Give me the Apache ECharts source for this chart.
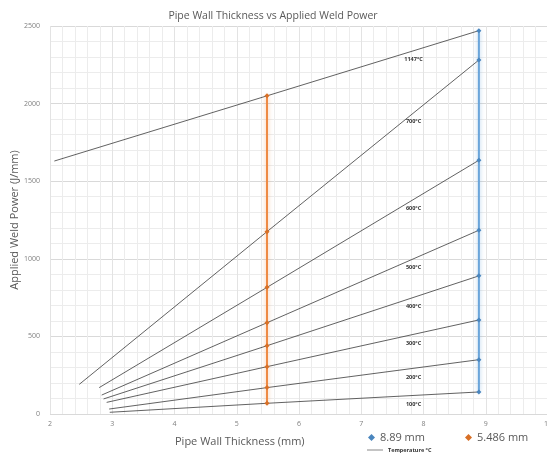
<!DOCTYPE html>
<html>
<head>
<meta charset="utf-8">
<script src="https://cdn.jsdelivr.net/npm/echarts@6/dist/echarts.min.js"></script>
<style>
html,body{margin:0;padding:0;background:#fff;}
#c{width:547px;height:455px;}
</style>
</head>
<body>
<div id="c"></div>
<script>
// ---- data ----
const thickness = [5.486, 8.89];
const seriesNames = ['5.486 mm', '8.89 mm'];
const tempLabels = ['100°C', '200°C', '300°C', '400°C', '500°C', '600°C', '700°C', '1147°C'];
const startThickness = [2.96, 2.95, 2.91, 2.86, 2.83, 2.79, 2.47, 2.07];
const startPower = [11, 32, 75, 97, 122, 170, 191, 1630];
const power5486 = [69, 170, 305, 440, 588, 816, 1175, 2050];
const power889 = [142, 350, 606, 890, 1184, 1635, 2281, 2470];
const xTicks = [2, 3, 4, 5, 6, 7, 8, 9, 10];
const yTicks = [0, 500, 1000, 1500, 2000, 2500];
const labelThickness = 7.84;

const FONT = '"Open Sans", "Liberation Sans", sans-serif';
const chart = echarts.init(document.getElementById('c'), null, {renderer: 'canvas'});

function yAt(i, x) {
  const x0 = thickness[0], x1 = thickness[1];
  const y0 = power5486[i], y1 = power889[i];
  return y0 + (y1 - y0) * (x - x0) / (x1 - x0);
}

const series = [];
tempLabels.forEach((lab, i) => {
  series.push({
    name: 'Temperature °C',
    type: 'line',
    data: [[startThickness[i], startPower[i]], [thickness[0], power5486[i]], [thickness[1], power889[i]]],
    symbol: 'none',
    lineStyle: {color: '#3a3a3a', width: 0.8},
    itemStyle: {color: '#3a3a3a'},
    z: 2,
    silent: true,
    markPoint: {
      symbol: 'circle', symbolSize: 0,
      data: [{coord: [labelThickness, yAt(i, labelThickness)], value: lab}],
      label: {show: true, formatter: lab, offset: [0, 9], fontSize: 5.5, fontWeight: 'bold',
              color: '#333', fontFamily: FONT}
    }
  });
});

series.push({
  name: seriesNames[0],
  type: 'line',
  data: power5486.map(v => [thickness[0], v]),
  symbol: 'diamond', symbolSize: 5,
  lineStyle: {color: '#EE8A45', width: 2, shadowBlur: 4, shadowColor: 'rgba(237,125,49,0.5)'},
  itemStyle: {color: '#D86F25'},
  z: 3
});
series.push({
  name: seriesNames[1],
  type: 'line',
  data: power889.map(v => [thickness[1], v]),
  symbol: 'diamond', symbolSize: 5,
  lineStyle: {color: '#6BA5DA', width: 2, shadowBlur: 4, shadowColor: 'rgba(91,155,213,0.5)'},
  itemStyle: {color: '#4A86BE'},
  z: 3
});

chart.setOption({
  animation: false,
  backgroundColor: '#fff',
  textStyle: {fontFamily: FONT},
  title: {
    text: 'Pipe Wall Thickness vs Applied Weld Power',
    left: 268, top: 6, textAlign: 'center',
    textStyle: {fontSize: 10.5, fontWeight: 'normal', color: '#595959', fontFamily: FONT}
  },
  legend: [{
    data: [seriesNames[1], seriesNames[0]],
    left: 368, top: 432, itemGap: 40, padding: 0,
    icon: 'diamond', itemWidth: 7, itemHeight: 7,
    textStyle: {fontSize: 11, color: '#595959', fontFamily: FONT}
  }, {
    data: ['Temperature °C'],
    left: 367, top: 447, itemGap: 2, padding: 0,
    itemWidth: 16, itemHeight: 6,
    icon: 'path://M0,0L16,0L16,0.6L0,0.6Z',
    textStyle: {fontSize: 5.5, fontWeight: 'bold', color: '#333', fontFamily: FONT}
  }],
  grid: {left: 50, right: -1, top: 26, bottom: 41, containLabel: false, outerBoundsMode: 'none'},
  xAxis: {
    type: 'value', min: xTicks[0], max: xTicks[xTicks.length - 1], interval: 1,
    axisLine: {show: false}, axisTick: {show: false},
    axisLabel: {fontSize: 7, color: '#7f7f7f', margin: 6, fontFamily: FONT},
    splitLine: {show: true, lineStyle: {color: '#e3e3e3', width: 1}},
    minorTick: {show: false, splitNumber: 5},
    minorSplitLine: {show: true, lineStyle: {color: '#ececec', width: 1}}
  },
  yAxis: {
    type: 'value', min: yTicks[0], max: yTicks[yTicks.length - 1], interval: 500,
    name: 'Applied Weld Power (J/mm)', nameLocation: 'middle', nameGap: 30,
    nameMoveOverlap: false,
    nameTextStyle: {fontSize: 11, color: '#595959', fontFamily: FONT},
    axisLine: {show: false}, axisTick: {show: false},
    axisLabel: {fontSize: 7, color: '#7f7f7f', margin: 10, fontFamily: FONT, formatter: v => String(v)},
    splitLine: {show: true, lineStyle: {color: '#d9d9d9', width: 1}},
    minorTick: {show: false, splitNumber: 5},
    minorSplitLine: {show: true, lineStyle: {color: '#ececec', width: 1}}
  },
  graphic: [{
    type: 'text', left: 175, top: 436,
    style: {text: 'Pipe Wall Thickness (mm)', fontSize: 11, fill: '#595959', fontFamily: FONT}
  }],
  series: series
});
</script>
</body>
</html>
